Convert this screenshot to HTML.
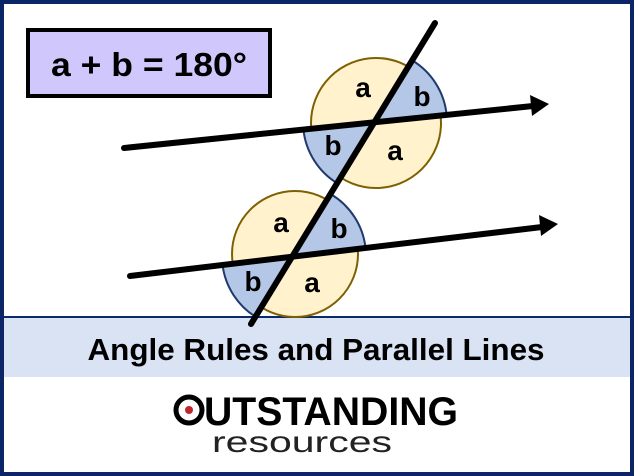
<!DOCTYPE html>
<html><head><meta charset="utf-8"><style>html,body{margin:0;padding:0;background:#fff}svg{display:block}</style></head>
<body>
<svg width="634" height="476" viewBox="0 0 634 476" xmlns="http://www.w3.org/2000/svg" font-family="Liberation Sans, sans-serif">
<rect x="0" y="0" width="634" height="476" fill="#fff"/>
<rect x="4" y="317" width="626" height="60" fill="#dae3f3"/>
<line x1="4" y1="317" x2="630" y2="317" stroke="#0b2a6b" stroke-width="2"/>
<rect x="2" y="2" width="630" height="472" fill="none" stroke="#0b2566" stroke-width="4"/>
<rect x="28" y="30" width="242" height="66" fill="#d0c8fc" stroke="#000" stroke-width="4"/>
<text x="149" y="76" text-anchor="middle" font-size="33" font-weight="bold" textLength="196" lengthAdjust="spacingAndGlyphs">a + b = 180°</text>
<circle cx="376" cy="123" r="65" fill="#fff2cc" stroke="#7f6000" stroke-width="2"/>
<circle cx="295" cy="254" r="63" fill="#fff2cc" stroke="#7f6000" stroke-width="2"/>
<g fill="#b4c7e7" stroke="#1f3a6e" stroke-width="2">
<path d="M375 122 L412.4 60.5 A72 72 0 0 1 446.6 114.6 Z"/>
<path d="M375 122 L337.6 183.5 A72 72 0 0 1 303.4 129.4 Z"/>
<path d="M294 256 L331.4 194.5 A72 72 0 0 1 365.5 247.5 Z"/>
<path d="M294 256 L256.6 317.5 A72 72 0 0 1 222.5 264.5 Z"/>
</g>
<g stroke="#000" stroke-width="6" stroke-linecap="round">
<line x1="124" y1="148" x2="533" y2="106"/>
<line x1="130" y1="276" x2="542" y2="227"/>
<line x1="251" y1="324" x2="435" y2="23"/>
</g>
<polygon points="549,104 530,95 532,116" fill="#000"/>
<polygon points="558,224 539,215 541,236" fill="#000"/>
<g font-size="28" font-weight="bold" text-anchor="middle">
<text x="363" y="97">a</text><text x="422" y="106">b</text>
<text x="333" y="155">b</text><text x="395" y="160">a</text>
<text x="281" y="232">a</text><text x="339" y="238">b</text>
<text x="253" y="291">b</text><text x="312" y="292">a</text>
</g>
<text x="316" y="360" text-anchor="middle" font-size="31" font-weight="bold" textLength="457" lengthAdjust="spacingAndGlyphs">Angle Rules and Parallel Lines</text>
<circle cx="189" cy="410" r="13" fill="none" stroke="#000" stroke-width="5"/>
<circle cx="189" cy="410" r="4" fill="#c0272d"/>
<text x="204" y="425" font-size="40" font-weight="bold" textLength="254" lengthAdjust="spacingAndGlyphs">UTSTANDING</text>
<text x="302" y="452" text-anchor="middle" font-size="30" fill="#222" textLength="180" lengthAdjust="spacingAndGlyphs">resources</text>
</svg>
</body></html>
